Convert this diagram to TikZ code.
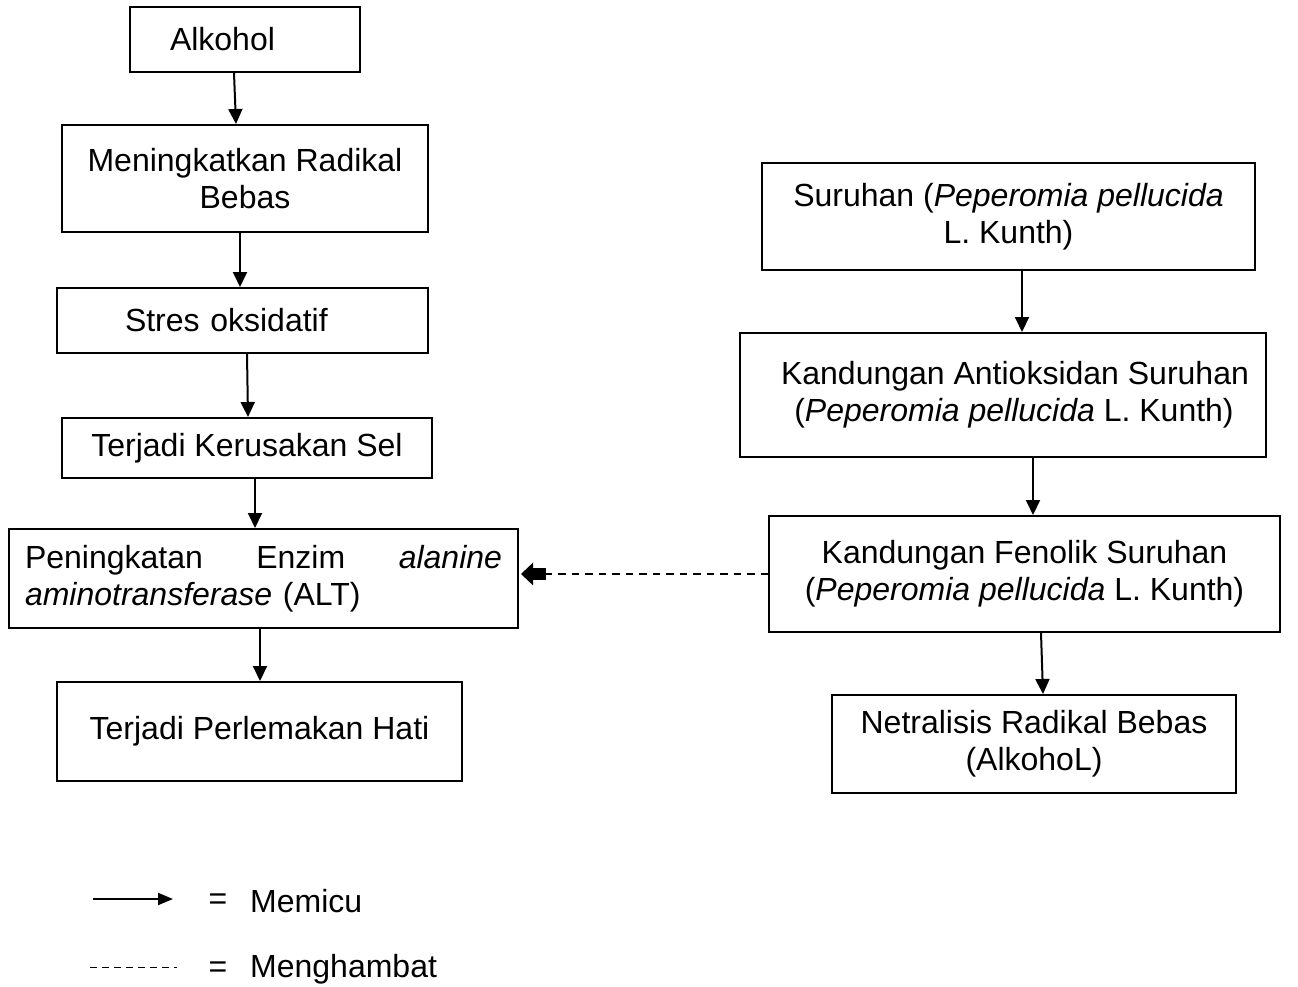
\documentclass[tikz,border=0pt]{standalone}
\usepackage{fontspec}
\setmainfont{Liberation Sans}
\usetikzlibrary{arrows.meta}
\begin{document}
\begin{tikzpicture}[x=1pt,y=-1pt,
  box/.style={draw, line width=2pt, inner sep=0pt, align=center, font=\fontsize{32}{37}\selectfont},
  txt/.style={inner sep=0pt, font=\fontsize{32}{37}\selectfont},
  arr/.style={line width=2pt, -{Triangle[width=14pt,length=15pt]}},
  inhib/.style={line width=1.8pt, dash pattern=on 7.5pt off 6pt},
  blockhead/.style={line width=12pt, -{Triangle[width=22pt,length=12pt]}},
]
\useasboundingbox (0,0) rectangle (1298,987);

% left column
\node[box, minimum width=230, minimum height=65, text width=150, inner xsep=40, align=left] (alk) at (245,39.5) {Alkohol};
\node[box, minimum width=366, minimum height=107] (men) at (245,178.5) {Meningkatkan Radikal\\Bebas};
\node[box, minimum width=371, minimum height=65, text width=235, inner xsep=68, align=left] (str) at (242.5,320.5) {Stres oksidatif};
\node[box, minimum width=370, minimum height=60] (ter) at (247,448) {Terjadi Kerusakan Sel};
\node[box, minimum width=509, minimum height=99, text width=477, inner xsep=16, align=left] (pen) at (263.5,578.5) {Peningkatan\hfill Enzim\hfill \textit{alanine}\\\textit{aminotransferase} (ALT)};
\node[box, minimum width=405, minimum height=99] (per) at (259.5,731.5) {Terjadi Perlemakan Hati};

% right column
\node[box, minimum width=493, minimum height=107] (sur) at (1008.5,216.5) {Suruhan (\textit{Peperomia pellucida}\\L. Kunth)};
\node[box, minimum width=526, minimum height=124] (ant) at (1003,395) {\hspace*{24pt}Kandungan Antioksidan Suruhan\\\hspace*{22pt}(\textit{Peperomia pellucida} L. Kunth)};
\node[box, minimum width=511, minimum height=116] (fen) at (1024.5,574) {Kandungan Fenolik Suruhan\\(\textit{Peperomia pellucida} L. Kunth)};
\node[box, minimum width=404, minimum height=98] (net) at (1034,744) {Netralisis Radikal Bebas\\(AlkohoL)};

% arrows left
\draw[arr] ([xshift=-11]alk.south) -- ([xshift=-9]men.north);
\draw[arr] ([xshift=-5]men.south) -- ([xshift=-2.5]str.north);
\draw[arr] ([xshift=4.5]str.south) -- ([xshift=1]ter.north);
\draw[arr] ([xshift=8]ter.south) -- ([xshift=-8.5]pen.north);
\draw[arr] ([xshift=-3.5]pen.south) -- ([xshift=0.5]per.north);

% arrows right
\draw[arr] ([xshift=13.5]sur.south) -- ([xshift=19]ant.north);
\draw[arr] ([xshift=30]ant.south) -- ([xshift=8.5]fen.north);
\draw[arr] ([xshift=16.5]fen.south) -- ([xshift=9]net.north);

% inhibition
\coordinate (hb) at ([xshift=27]pen.east |- fen.west);
\coordinate (ht) at ([xshift=2]pen.east |- fen.west);
\draw[inhib] (fen.west) -- (hb);
\draw[blockhead] (hb) -- (ht);

% legend
\coordinate (la1) at (93,899);
\coordinate (la2) at (173,899);
\draw[line width=2pt, -{Triangle[width=12pt,length=15pt]}] (la1) -- (la2);
\node[txt] (eq1) at (218,902) {=};
\node[txt, anchor=west] (memicu) at (250,901) {Memicu};
\coordinate (lb1) at (90,967);
\coordinate (lb2) at (177,967);
\draw[line width=1pt, dash pattern=on 7pt off 5pt] (lb1) -- (lb2);
\node[txt] (eq2) at (218,970) {=};
\node[txt, anchor=west] (mengh) at (250,969) {Menghambat};
\end{tikzpicture}
\end{document}
